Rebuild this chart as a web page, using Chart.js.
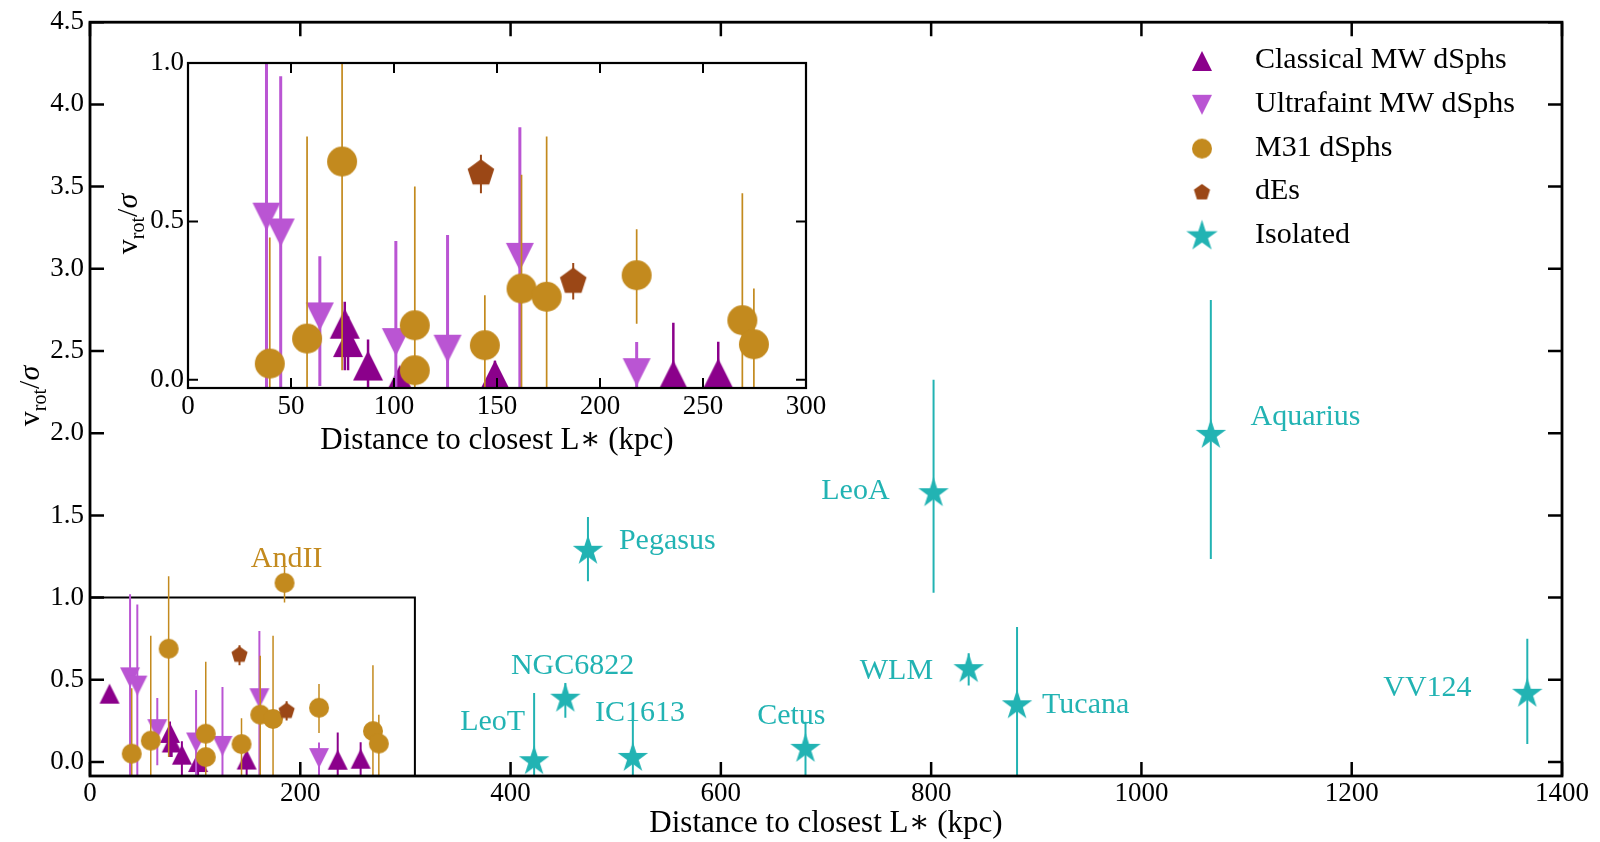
<!DOCTYPE html>
<html>
<head>
<meta charset="utf-8">
<script src="https://cdn.jsdelivr.net/npm/chart.js@4.4.1/dist/chart.umd.min.js"></script>
<style>
  body { margin: 0; background: #fff; }
  #wrap { position: relative; width: 1600px; height: 842px; }
  #mainChart { position: absolute; left: 0; top: 0; }
  #insetChart { position: absolute; left: 100px; top: 40px; }
</style>
</head>
<body>
<div id="wrap">
  <canvas id="mainChart" width="1600" height="842"></canvas>
  <canvas id="insetChart" width="730" height="420"></canvas>
</div>
<script>
const FONT = '"Liberation Serif", "DejaVu Serif", serif';

// ---- values ----
const seriesNames = ['Classical MW dSphs', 'Ultrafaint MW dSphs', 'M31 dSphs', 'dEs', 'Isolated'];

// Classical MW dSphs (distance kpc, v_rot/sigma, error bar ends)
const classicalDist  = [18.6, 76.1, 77.7, 87.4, 102.8, 149.0, 235.6, 257.4];
const classicalRatio = [0.416, 0.177, 0.119, 0.045, 0.0, 0.015, 0.014, 0.02];
const classicalLow   = [0.416, 0.03, 0.03, -0.3, -0.3, -0.3, -0.3, -0.3];
const classicalHigh  = [0.416, 0.246, 0.20, 0.127, 0.03, 0.06, 0.18, 0.12];
const classicalInInset = [false, true, true, true, true, true, true, true];

// Ultrafaint MW dSphs
const ultrafaintDist  = [38.1, 45.0, 64.0, 100.9, 126.0, 161.1, 217.8];
const ultrafaintRatio = [0.515, 0.465, 0.20, 0.119, 0.098, 0.388, 0.024];
const ultrafaintLow   = [-0.3, -0.3, -0.02, -0.3, -0.3, -0.3, -0.3];
const ultrafaintHigh  = [1.02, 0.958, 0.39, 0.438, 0.457, 0.797, 0.119];
const ultrafaintInInset = [true, true, true, true, true, true, true];

// M31 dSphs
const m31Dist  = [39.7, 57.8, 74.8, 110.1, 110.1, 144.1, 161.9, 174.1, 185.0, 217.8, 269.1, 274.7];
const m31Ratio = [0.051, 0.13, 0.689, 0.172, 0.03, 0.109, 0.288, 0.262, 1.09, 0.33, 0.188, 0.112];
const m31Low   = [-0.3, -0.3, 0.03, -0.3, -0.3, -0.3, -0.3, -0.3, 0.97, 0.177, -0.3, -0.3];
const m31High  = [0.449, 0.768, 1.13, 0.61, 0.085, 0.267, 0.647, 0.768, 1.21, 0.475, 0.589, 0.288];
const m31InInset = [true, true, true, true, true, true, true, true, false, true, true, true];

// dEs
const dEsDist  = [142.2, 187.0];
const dEsRatio = [0.652, 0.31];
const dEsLow   = [0.589, 0.253];
const dEsHigh  = [0.71, 0.369];
const dEsInInset = [true, true];

// Isolated
const isolatedNames = ['LeoT', 'NGC6822', 'Pegasus', 'IC1613', 'Cetus', 'LeoA', 'WLM', 'Tucana', 'Aquarius', 'VV124'];
const isolatedDist  = [422.4, 452.1, 473.6, 516.3, 680.5, 802.3, 835.7, 881.7, 1066, 1367];
const isolatedRatio = [0.005, 0.385, 1.285, 0.025, 0.08, 1.635, 0.565, 0.345, 1.99, 0.415];
const isolatedLow   = [-0.3, 0.27, 1.10, -0.3, -0.3, 1.03, 0.465, -0.3, 1.235, 0.11];
const isolatedHigh  = [0.42, 0.48, 1.49, 0.265, 0.245, 2.325, 0.662, 0.822, 2.81, 0.75];
const isolatedInInset = isolatedDist.map(() => false);
// where the name labels sit (data coordinates of the text centre)
const isolatedLabelX = [383, 459, 549, 523, 667, 728, 767, 947, 1156, 1272];
const isolatedLabelY = [0.255, 0.594, 1.358, 0.309, 0.291, 1.661, 0.564, 0.358, 2.109, 0.461];
const andIILabel = {text: 'AndII', x: 187, y: 1.248};

// axes
const mainTicksX  = [0, 200, 400, 600, 800, 1000, 1200, 1400];
const mainTicksY  = [0, 0.5, 1, 1.5, 2, 2.5, 3, 3.5, 4, 4.5];
const insetTicksX = [0, 50, 100, 150, 200, 250, 300];
const insetTicksY = [0, 0.5, 1];
const zoomBoxDist = 309;
const zoomBoxRatio = 1.0;

// ---- styles ----
const styles = {
  classical:  {shape: 'up',       color: '#8b008b', main: 20, inset: 30, legend: 20, errMain: 2,   errInset: 2.5},
  ultrafaint: {shape: 'down',     color: '#ba55d3', main: 20, inset: 28, legend: 20, errMain: 2,   errInset: 3},
  m31:        {shape: 'circle',   color: '#c38a1e', main: 20, inset: 30, legend: 20, errMain: 1.5, errInset: 1.7},
  dEs:        {shape: 'pentagon', color: '#9b4716', main: 17, inset: 28, legend: 17, errMain: 2,   errInset: 2},
  isolated:   {shape: 'star',     color: '#22b3b3', main: 32, inset: 32, legend: 33, errMain: 2,   errInset: 2}
};

const series = [
  {key: 'classical',  dist: classicalDist,  ratio: classicalRatio,  low: classicalLow,  high: classicalHigh,  inset: classicalInInset},
  {key: 'ultrafaint', dist: ultrafaintDist, ratio: ultrafaintRatio, low: ultrafaintLow, high: ultrafaintHigh, inset: ultrafaintInInset},
  {key: 'm31',        dist: m31Dist,        ratio: m31Ratio,        low: m31Low,        high: m31High,        inset: m31InInset},
  {key: 'dEs',        dist: dEsDist,        ratio: dEsRatio,        low: dEsLow,        high: dEsHigh,        inset: dEsInInset},
  {key: 'isolated',   dist: isolatedDist,   ratio: isolatedRatio,   low: isolatedLow,   high: isolatedHigh,   inset: isolatedInInset}
];

// matplotlib-like filled markers as little canvases
function markerCanvas(shape, size, color) {
  const n = Math.ceil(size) + 4;
  const c = document.createElement('canvas');
  c.width = n; c.height = n;
  const g = c.getContext('2d');
  const r = size / 2, cx = n / 2, cy = n / 2;
  g.fillStyle = color;
  g.beginPath();
  if (shape === 'circle') {
    g.arc(cx, cy, r, 0, Math.PI * 2);
  } else if (shape === 'up') {
    g.moveTo(cx, cy - r); g.lineTo(cx + r, cy + r); g.lineTo(cx - r, cy + r);
  } else if (shape === 'down') {
    g.moveTo(cx, cy + r); g.lineTo(cx + r, cy - r); g.lineTo(cx - r, cy - r);
  } else {
    const k = shape === 'star' ? 10 : 5;
    for (let i = 0; i < k; i++) {
      const rr = (shape === 'star' && i % 2) ? r * 0.382 : r;
      const a = -Math.PI / 2 + i * 2 * Math.PI / k;
      g.lineTo(cx + rr * Math.cos(a), cy + rr * Math.sin(a));
    }
  }
  g.closePath();
  g.fill();
  return c;
}

function makeSets(sizeKey, errKey, insetOnly) {
  return series.map((s, i) => {
    const st = styles[s.key];
    const idx = s.dist.map((_, j) => j).filter(j => !insetOnly || s.inset[j]);
    return {
      label: seriesNames[i],
      data: idx.map(j => ({x: s.dist[j], y: s.ratio[j]})),
      errLow: idx.map(j => s.low[j]),
      errHigh: idx.map(j => s.high[j]),
      errColor: st.color,
      errWidth: st[errKey],
      pointStyle: markerCanvas(st.shape, st[sizeKey], st.color),
      pointRadius: 5,
      order: series.length - i,
      clip: 0
    };
  });
}

// vertical error bars, drawn just under each series' markers
const errorBars = {
  id: 'errorBars',
  beforeDatasetDraw(chart, args) {
    const ds = chart.data.datasets[args.index];
    if (!ds.errLow || !ds.data.length) return;
    const {ctx, chartArea: a, scales: {x, y}} = chart;
    ctx.save();
    ctx.beginPath();
    ctx.rect(a.left, a.top, a.width, a.height);
    ctx.clip();
    ctx.strokeStyle = ds.errColor;
    ctx.lineWidth = ds.errWidth;
    ctx.beginPath();
    ds.data.forEach((p, i) => {
      if (ds.errHigh[i] === ds.errLow[i]) return;
      const px = x.getPixelForValue(p.x);
      ctx.moveTo(px, y.getPixelForValue(ds.errLow[i]));
      ctx.lineTo(px, y.getPixelForValue(ds.errHigh[i]));
    });
    ctx.stroke();
    ctx.restore();
  }
};

// box with inward ticks on all four sides
function framePlugin(tickLen, tickWidth, frameWidth) {
  return {
    id: 'frame',
    afterDatasetsDraw(chart) {
      const {ctx, chartArea: a, scales: {x, y}} = chart;
      ctx.save();
      ctx.strokeStyle = '#000';
      ctx.lineWidth = tickWidth;
      ctx.beginPath();
      x.ticks.forEach(t => {
        const p = x.getPixelForValue(t.value);
        ctx.moveTo(p, a.bottom); ctx.lineTo(p, a.bottom - tickLen);
        ctx.moveTo(p, a.top); ctx.lineTo(p, a.top + tickLen);
      });
      y.ticks.forEach(t => {
        const p = y.getPixelForValue(t.value);
        ctx.moveTo(a.left, p); ctx.lineTo(a.left + tickLen, p);
        ctx.moveTo(a.right, p); ctx.lineTo(a.right - tickLen, p);
      });
      ctx.stroke();
      ctx.lineWidth = frameWidth;
      ctx.strokeRect(a.left, a.top, a.width, a.height);
      ctx.restore();
    }
  };
}

function drawVrotTitle(ctx, cx, cy, size) {
  const big = size + 'px ' + FONT;
  const ital = 'italic ' + size + 'px ' + FONT;
  const small = Math.round(size * 0.68) + 'px ' + FONT;
  ctx.save();
  ctx.translate(cx, cy);
  ctx.rotate(-Math.PI / 2);
  ctx.fillStyle = '#000';
  ctx.textBaseline = 'alphabetic';
  ctx.textAlign = 'left';
  ctx.font = big; const wv = ctx.measureText('v').width; const ws = ctx.measureText('/').width;
  ctx.font = ital; const wsig = ctx.measureText('σ').width;
  ctx.font = small; const wr = ctx.measureText('rot').width;
  let px = -(wv + wr + ws + wsig) / 2;
  const base = size * 0.3;
  ctx.font = big; ctx.fillText('v', px, base); px += wv;
  ctx.font = small; ctx.fillText('rot', px, base + size * 0.22); px += wr;
  ctx.font = big; ctx.fillText('/', px, base); px += ws;
  ctx.font = ital; ctx.fillText('σ', px, base);
  ctx.restore();
}

const xTitle = 'Distance to closest L∗ (kpc)';

function scaleOpts(min, max, ticks, fmt, fit) {
  return {
    type: 'linear', min: min, max: max,
    grid: {display: false, drawTicks: false},
    border: {display: false},
    ticks: {
      color: '#000', font: {family: FONT, size: 27}, padding: fit.pad,
      autoSkip: false, maxRotation: 0, includeBounds: false,
      callback: v => fmt(v)
    },
    afterBuildTicks: s => { s.ticks = ticks.map(v => ({value: v})); },
    afterFit: s => { if (fit.width) s.width = fit.width; if (fit.height) s.height = fit.height; }
  };
}

// ---- main chart ----
const mainDecor = {
  id: 'mainDecor',
  beforeDatasetsDraw(chart) {
    const {ctx, chartArea: a, scales: {x, y}} = chart;
    ctx.save();
    ctx.strokeStyle = '#000';
    ctx.lineWidth = 2;
    ctx.beginPath();
    const bx = x.getPixelForValue(zoomBoxDist), by = y.getPixelForValue(zoomBoxRatio);
    ctx.moveTo(a.left, by); ctx.lineTo(bx, by); ctx.lineTo(bx, a.bottom);
    ctx.stroke();
    ctx.restore();
  },
  afterDraw(chart) {
    const {ctx, chartArea: a, scales: {x, y}} = chart;
    ctx.save();
    // object names
    ctx.font = '30px ' + FONT;
    ctx.textAlign = 'center';
    ctx.textBaseline = 'alphabetic';
    ctx.fillStyle = styles.isolated.color;
    isolatedNames.forEach((n, i) => {
      ctx.fillText(n, x.getPixelForValue(isolatedLabelX[i]), y.getPixelForValue(isolatedLabelY[i]) + 10);
    });
    ctx.fillStyle = styles.m31.color;
    ctx.fillText(andIILabel.text, x.getPixelForValue(andIILabel.x), y.getPixelForValue(andIILabel.y) + 10);

    // legend
    const keys = ['classical', 'ultrafaint', 'm31', 'dEs', 'isolated'];
    ctx.textAlign = 'left';
    ctx.fillStyle = '#000';
    keys.forEach((k, i) => {
      const st = styles[k];
      const m = markerCanvas(st.shape, st.legend, st.color);
      const cy = 61 + i * 43.8;
      ctx.drawImage(m, 1202 - m.width / 2, cy - m.height / 2);
      ctx.fillText(seriesNames[i], 1255, cy + 7);
    });

    // axis titles
    ctx.font = '31px ' + FONT;
    ctx.textAlign = 'center';
    ctx.fillText(xTitle, (a.left + a.right) / 2, 832);
    ctx.restore();
    drawVrotTitle(ctx, 30, 396, 30);
  }
};

new Chart(document.getElementById('mainChart'), {
  type: 'scatter',
  data: {datasets: makeSets('main', 'errMain', false)},
  options: {
    responsive: false, animation: false, devicePixelRatio: 1, events: [],
    layout: {padding: {top: 19, right: 38, left: 0, bottom: 0}},
    plugins: {legend: {display: false}, tooltip: {enabled: false}},
    scales: {
      x: scaleOpts(0, 1400, mainTicksX, v => String(v), {height: 66, pad: 2}),
      y: scaleOpts(-0.085, 4.5, mainTicksY, v => v.toFixed(1), {width: 90, pad: 6})
    }
  },
  plugins: [errorBars, framePlugin(14, 2.5, 2.8), mainDecor]
});

// ---- inset chart ----
const insetDecor = {
  id: 'insetDecor',
  afterDraw(chart) {
    const {ctx, chartArea: a} = chart;
    ctx.save();
    ctx.font = '31px ' + FONT;
    ctx.textAlign = 'center';
    ctx.textBaseline = 'alphabetic';
    ctx.fillStyle = '#000';
    ctx.fillText(xTitle, (a.left + a.right) / 2, 409);
    ctx.restore();
    drawVrotTitle(ctx, 28, 184, 30);
  }
};

new Chart(document.getElementById('insetChart'), {
  type: 'scatter',
  data: {datasets: makeSets('inset', 'errInset', true)},
  options: {
    responsive: false, animation: false, devicePixelRatio: 1, events: [],
    layout: {padding: {top: 23, right: 24, left: 0, bottom: 0}},
    plugins: {legend: {display: false}, tooltip: {enabled: false}},
    scales: {
      x: scaleOpts(0, 300, insetTicksX, v => String(v), {height: 72, pad: 3}),
      y: scaleOpts(-0.026, 1.0, insetTicksY, v => v.toFixed(1), {width: 88, pad: 4})
    }
  },
  plugins: [errorBars, framePlugin(10, 2, 2.2), insetDecor]
});
</script>
</body>
</html>
